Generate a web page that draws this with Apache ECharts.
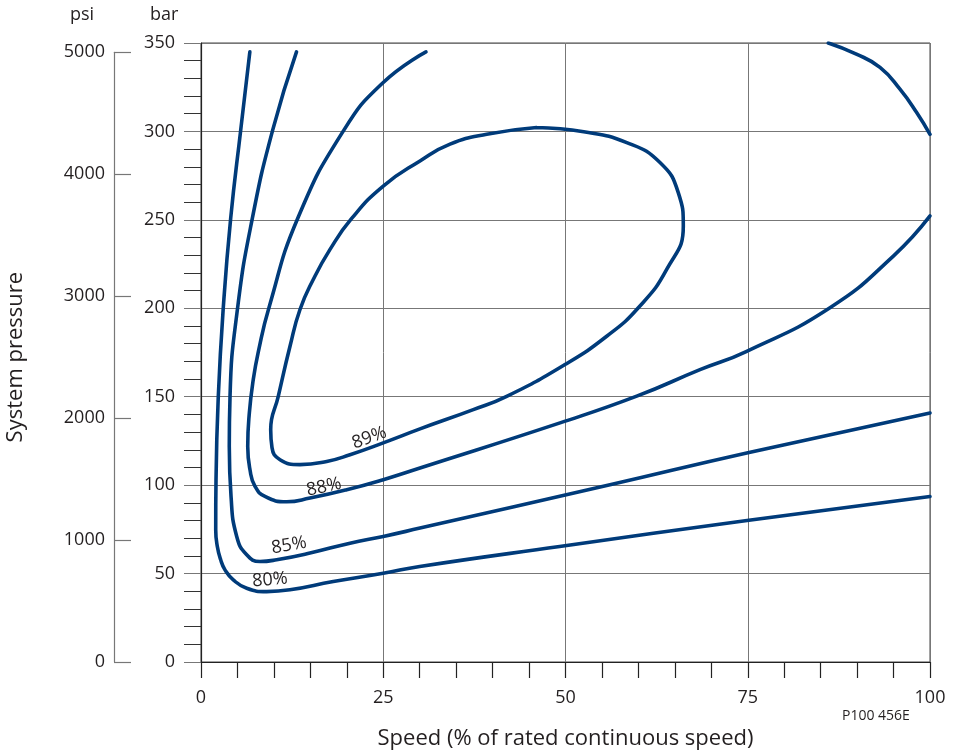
<!DOCTYPE html>
<html>
<head>
<meta charset="utf-8">
<script src="https://cdn.jsdelivr.net/npm/echarts@6/dist/echarts.min.js"></script>
<style>
html,body{margin:0;padding:0;background:#fff;}
#chart{width:955px;height:753px;}
</style>
</head>
<body>
<div id="chart"></div>
<script>
// Speed (%) vs pressure (bar) efficiency contours
const curve80 = [[6.7,345],[5.45,300.9],[4.07,250.8],[3.06,200.5],[2.37,150],[2.06,103],[2.02,74.7],[2.24,65.3],[2.7,57.8],[3.29,52.1],[4.43,46.4],[6.27,41.7],[9.01,39.8],[12.2,40.8],[18.15,45.5],[25.0,50.2],[30.0,54.0],[49.2,65.3],[74.9,80.0],[100,93.6]];
const curve85 = [[13.1,345],[9.84,300.9],[7.04,250.8],[5.03,200.5],[3.98,150],[3.88,121.9],[4.12,93.6],[4.9,71],[6.27,60.6],[8.09,56.8],[10.38,57.8],[14.95,61.6],[20.44,67.2],[25.0,71],[30.04,75.7],[56.1,100.2],[74.86,118.2],[100,140.8]];
const curve88 = [[30.86,345],[25.0,327.7],[19.62,300.9],[13.26,250.8],[9.33,200.5],[7.86,175.4],[7.17,159.7],[6.63,140.8],[6.41,121.9],[6.72,108.7],[7.41,99.3],[8.78,93.6],[11.76,90.6],[14.95,92.7],[19.99,97.4],[25.0,103.1],[30.04,109.7],[49.25,135.2],[59.77,150.3],[68.45,165.3],[74.86,175.7],[86.28,200.3],[94.97,229.5],[100,252.2]];
const curve89 = [[46.04,302.2],[39.19,298.4],[34.16,292.8],[30.04,283.3],[25.0,269.1],[20.67,250.8],[17.7,233.3],[15.4,216.3],[13.58,199.3],[12.21,178.5],[10.6,150.2],[9.56,131.4],[9.74,121.2],[10.84,114.4],[13.58,111.6],[17.24,113.4],[20.44,117.2],[25.0,123.9],[30.04,131.8],[37.35,142.7],[41.93,150.2],[49.93,168.2],[55.65,184.2],[59.99,200.3],[63.88,222],[66.16,246.5],[65.47,265.4],[62.96,282.4],[58.4,293.7],[52.5,299.8],[46.04,302.2]];
const curveTop = [[86.05,350],[89.9,343.7],[93.14,336.2],[95.88,323.9],[98.17,310.7],[100,298.4]];
const contourLabels = ['80%','85%','88%','89%'];
const labelPoints = [[9.47,46.4],[12.07,65.9],[16.87,98.9],[23.09,126.7]];
const labelAngles = [5,10,12,20];
const psiTicks = [0,1000,2000,3000,4000,5000];
const BAR_PER_PSI = 1/14.5038;

const FONT = '"Open Sans", "Noto Sans", sans-serif';
const TXT = '#231f20';
const LINE = '#003b7a';

const chart = echarts.init(document.getElementById('chart'), null, {renderer:'canvas'});

const lineSeries = [curve80, curve85, curve88, curve89, curveTop].map(d => ({
  type:'line', xAxisIndex:0, yAxisIndex:0, data:d, smooth:0.5, symbol:'none',
  lineStyle:{color:LINE, width:3.6, cap:'round', join:'round'}, silent:true, z:3
}));

const labelSeries = contourLabels.map((t,i) => ({
  type:'scatter', xAxisIndex:0, yAxisIndex:0, symbolSize:0, silent:true, z:5,
  itemStyle:{opacity:1},
  data:[labelPoints[i]],
  label:{show:true, position:'inside', formatter:t, rotate:labelAngles[i],
    color:TXT, opacity:1, fontFamily:FONT, fontSize:18}
}));

const psiTopBar = psiTicks[psiTicks.length-1]*BAR_PER_PSI;
const plotTop = 43, plotBottom = 662, plotH = plotBottom-plotTop;
const psiGridTop = plotBottom - psiTopBar/350*plotH;

chart.setOption({
  animation:false,
  backgroundColor:'#fff',
  grid:[
    {left:201, top:plotTop, width:729, height:plotH, show:true, borderColor:'#444', borderWidth:1, containLabel:false, outerBoundsMode:'none'},
    {left:114, top:psiGridTop, width:1, height:plotBottom-psiGridTop, containLabel:false, outerBoundsMode:'none'}
  ],
  xAxis:[
    {type:'value', gridIndex:0, min:0, max:100, interval:25,
      name:'Speed (% of rated continuous speed)', nameLocation:'middle', nameGap:66,
      nameTextStyle:{fontFamily:FONT, fontSize:22, color:TXT},
      axisLine:{show:true, lineStyle:{color:'#222', width:1.2}},
      axisTick:{show:true, length:16, lineStyle:{color:'#222', width:1.2}},
      minorTick:{show:true, splitNumber:5, length:16, lineStyle:{color:'#222', width:1.2}},
      axisLabel:{margin:27, fontFamily:FONT, fontSize:18, color:TXT, formatter:v=>String(v)},
      splitLine:{show:true, lineStyle:{color:'#777', width:1}}},
    {type:'value', gridIndex:1, show:false, min:0, max:1}
  ],
  yAxis:[
    {type:'value', gridIndex:0, min:0, max:350, interval:50,
      axisLine:{show:true, lineStyle:{color:'#222', width:1.2}},
      axisTick:{show:true, length:17, lineStyle:{color:'#777', width:1}},
      minorTick:{show:true, splitNumber:5, length:17, lineStyle:{color:'#333', width:1}},
      axisLabel:{margin:26, fontFamily:FONT, fontSize:18, color:TXT, formatter:v=>String(v)},
      splitLine:{show:true, lineStyle:{color:'#777', width:1}}},
    {type:'value', gridIndex:1, min:0, max:psiTicks[psiTicks.length-1], interval:1000,
      name:'System pressure', nameLocation:'middle', nameGap:87,
      nameTextStyle:{fontFamily:FONT, fontSize:22, color:TXT},
      axisLine:{show:true, lineStyle:{color:'#777', width:1.2}},
      axisTick:{show:true, inside:true, length:17, lineStyle:{color:'#777', width:1.2}},
      axisLabel:{margin:9, fontFamily:FONT, fontSize:18, color:TXT, formatter:v=>String(v)},
      splitLine:{show:false}}
  ],
  graphic:[
    {type:'text', left:70, top:6, style:{text:'psi', fontFamily:FONT, fontSize:18, fill:TXT}},
    {type:'text', left:150, top:6, style:{text:'bar', fontFamily:FONT, fontSize:18, fill:TXT}},
    {type:'text', left:842, top:709, style:{text:'P100 456E', fontFamily:FONT, fontSize:14, fill:TXT}}
  ],
  series: lineSeries.concat(labelSeries)
});
</script>
</body>
</html>
